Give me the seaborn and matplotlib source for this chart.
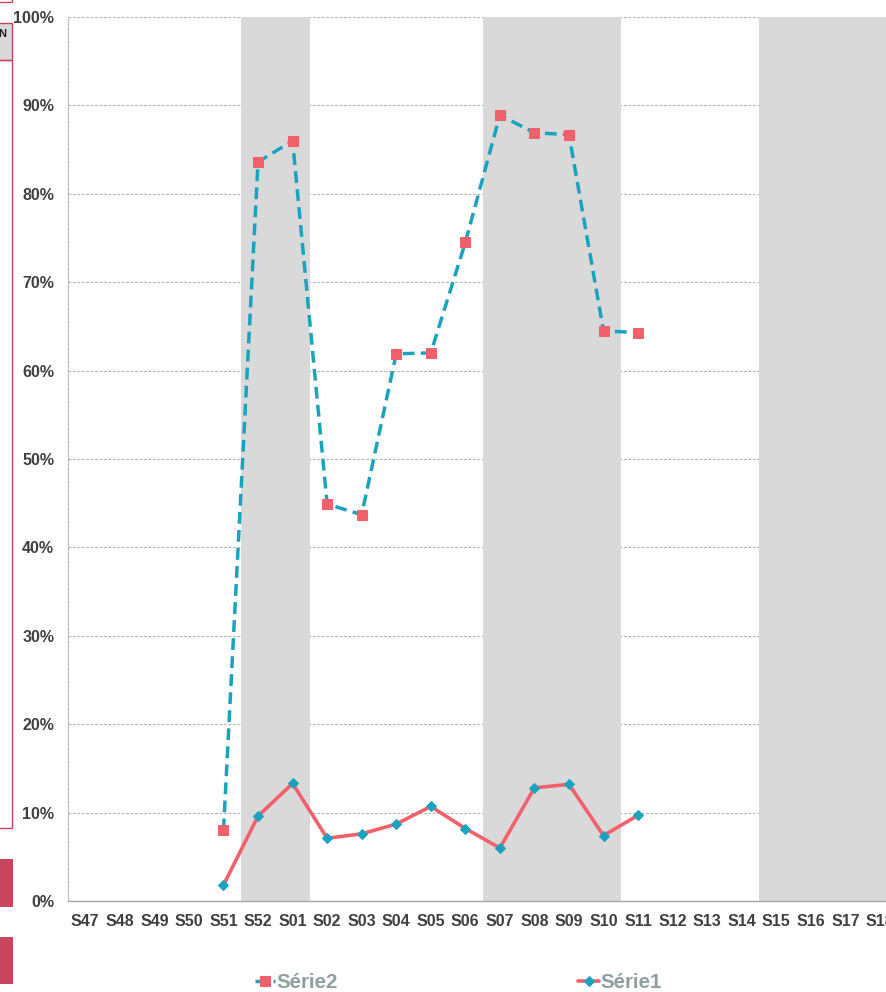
import numpy as np
import pandas as pd
import matplotlib
matplotlib.use("Agg")
import matplotlib.pyplot as plt
from matplotlib.patches import Rectangle
from matplotlib.ticker import PercentFormatter, FixedLocator
import seaborn as sns

# Weekly categories
weeks = ["S47", "S48", "S49", "S50", "S51", "S52", "S01", "S02", "S03", "S04",
         "S05", "S06", "S07", "S08", "S09", "S10", "S11", "S12", "S13", "S14",
         "S15", "S16", "S17", "S18"]

# Série2: dashed blue line with red square markers
serie2 = [np.nan, np.nan, np.nan, np.nan, 0.080, 0.836, 0.860, 0.449, 0.437, 0.619,
          0.620, 0.745, 0.889, 0.869, 0.867, 0.645, 0.643, np.nan, np.nan, np.nan,
          np.nan, np.nan, np.nan, np.nan]

# Série1: solid red line with blue diamond markers
serie1 = [np.nan, np.nan, np.nan, np.nan, 0.018, 0.096, 0.133, 0.071, 0.076, 0.087,
          0.107, 0.082, 0.060, 0.128, 0.132, 0.074, 0.097, np.nan, np.nan, np.nan,
          np.nan, np.nan, np.nan, np.nan]

# Shaded (holiday) weeks
shaded = [0, 0, 0, 0, 0, 1, 1, 0, 0, 0,
          0, 0, 1, 1, 1, 1, 0, 0, 0, 0,
          1, 1, 1, 1]

BLUE = "#1aa3bf"
RED = "#f2616b"
BAND = "#d9d9d9"
TXT = "#404040"

sns.set_theme(style="white")
plt.rcParams["font.family"] = ["Liberation Sans", "DejaVu Sans"]
plt.rcParams["font.weight"] = "bold"

W, H = 886, 992
fig = plt.figure(figsize=(W / 100, H / 100), dpi=100)

# plot area: left at 68px, 0% at y=901, 100% at y=17, 34.55px per week
cat_w = 34.55
left, top, bottom = 68, 17, 901
ax = fig.add_axes([left / W, (H - bottom) / H,
                   cat_w * len(weeks) / W, (bottom - top) / H])

pos = np.arange(len(weeks))
df = pd.DataFrame({"pos": pos, "week": weeks, "Série1": serie1,
                   "Série2": serie2, "shade": shaded})

# shaded weeks as full-height columns
ax.bar(df["pos"], df["shade"], width=1.0, color=BAND, zorder=1, linewidth=0)

d2 = df.dropna(subset=["Série2"])
d1 = df.dropna(subset=["Série1"])
sns.lineplot(data=d2, x="pos", y="Série2", ax=ax, color=BLUE, lw=2.5,
             linestyle=(0, (3.4, 1.8)), marker="s", markersize=7,
             markerfacecolor=RED, markeredgecolor=RED, zorder=4, label="Série2")
sns.lineplot(data=d1, x="pos", y="Série1", ax=ax, color=RED, lw=2.6,
             marker="D", markersize=5.4,
             markerfacecolor=BLUE, markeredgecolor=BLUE, zorder=5, label="Série1")

ax.set_xlim(-0.5, len(weeks) - 0.5)
ax.set_ylim(0, 1)
ax.set_xlabel("")
ax.set_ylabel("")

ax.yaxis.set_major_locator(FixedLocator(np.linspace(0, 1, 11)))
ax.yaxis.set_major_formatter(PercentFormatter(1.0, decimals=0))
ax.set_xticks(pos)
ax.set_xticklabels(weeks)
ax.xaxis.set_minor_locator(FixedLocator(np.arange(-0.5, len(weeks), 1.0)))

ax.tick_params(axis="x", which="major", length=0, pad=9,
               labelsize=11.5, labelcolor=TXT)
ax.tick_params(axis="x", which="minor", length=5, width=0.8,
               color="#a6a6a6", direction="out")
ax.tick_params(axis="y", which="major", length=5, width=0.8, color="#a6a6a6",
               direction="out", pad=5, labelsize=11.5, labelcolor=TXT)
for lab in ax.get_xticklabels() + ax.get_yticklabels():
    lab.set_fontweight("bold")

ax.set_axisbelow(True)
ax.grid(axis="y", color="#b4b4b4", linestyle=(0, (2.5, 1.5)), lw=0.8, zorder=0)
ax.grid(axis="x", visible=False)

for s in ["top", "right"]:
    ax.spines[s].set_visible(False)
ax.spines["left"].set_color("#b4b4b4")
ax.spines["left"].set_linestyle((0, (2.5, 1.5)))
ax.spines["left"].set_linewidth(0.8)
ax.spines["bottom"].set_color("#a6a6a6")
ax.spines["bottom"].set_linewidth(1.0)

# legend along the bottom
handles, labels = ax.get_legend_handles_labels()
ax.get_legend().remove()
fig.legend(handles, labels, loc="center", bbox_to_anchor=(0.517, 0.0095),
           ncol=2, frameon=False, handlelength=1.0, handletextpad=0.05,
           columnspacing=11.7, prop={"size": 14.8, "weight": "bold"},
           labelcolor="#90a0a0")

# fragments of neighbouring shapes on the left edge
EDGE = "#c9475e"
def px_rect(x0, y0, x1, y1, **kw):
    fig.patches.append(Rectangle((x0 / W, (H - y1) / H), (x1 - x0) / W,
                                 (y1 - y0) / H, transform=fig.transFigure, **kw))

px_rect(-2, -2, 12, 1.5, facecolor="none", edgecolor=EDGE, lw=1.0)
px_rect(-2, 23, 12, 60, facecolor=BAND, edgecolor=EDGE, lw=1.0)
px_rect(-2, 60, 12, 828, facecolor="none", edgecolor=EDGE, lw=1.0)
px_rect(0, 859, 12.5, 907, facecolor=EDGE, edgecolor="none")
px_rect(0, 937, 12.5, 984, facecolor=EDGE, edgecolor="none")
fig.text(-2 / W, (H - 34) / H, "N", fontsize=8, fontweight="bold",
         color="#202020", va="center", ha="left")

fig.savefig("out.png", dpi=100)
